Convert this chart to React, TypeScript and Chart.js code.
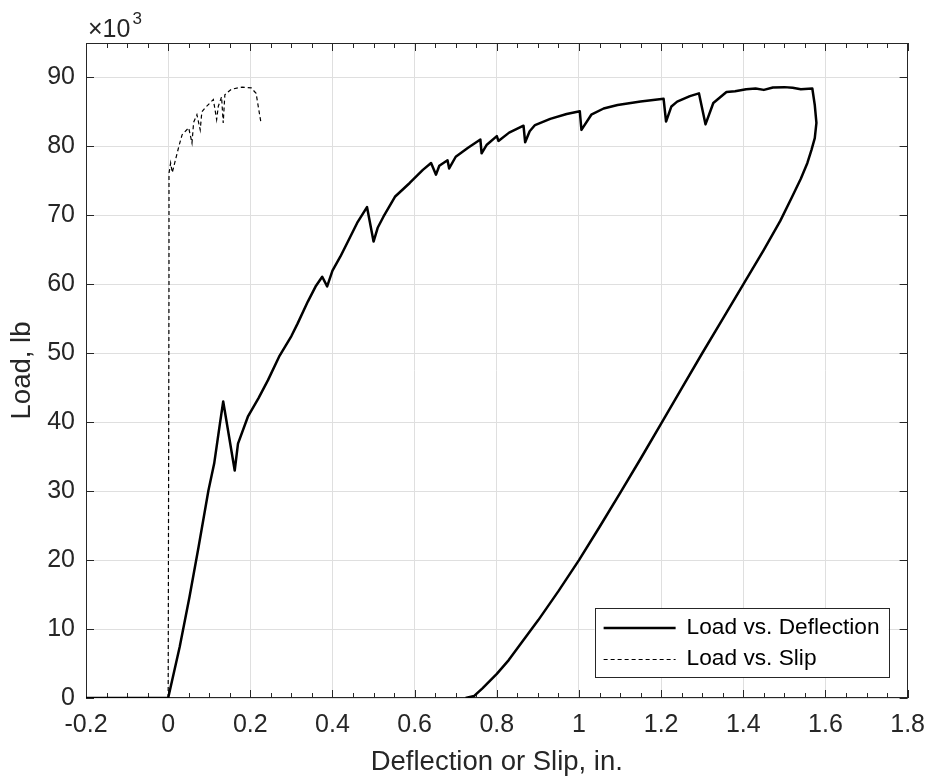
import React, { useEffect, useRef } from 'react';
import { Chart, registerables } from 'chart.js';

Chart.register(...registerables);

const FONT = "'Liberation Sans', Arial, Helvetica, sans-serif";
const INK = '#262626';

// axis ranges and tick labels
const xRange = [-0.2, 1.8];
const yRange = [0, 95];
const xTicks = [-0.2, 0, 0.2, 0.4, 0.6, 0.8, 1, 1.2, 1.4, 1.6, 1.8];
const yTicks = [0, 10, 20, 30, 40, 50, 60, 70, 80, 90];
const xTitle = 'Deflection or Slip, in.';
const yTitle = 'Load, lb';
const seriesLabels = ['Load vs. Deflection', 'Load vs. Slip'];

// Load vs. Deflection (load in 10^3 lb): loading branch
const deflectionLoading: [number, number][] = [
  [-0.2, 0], [0, 0], [0.028, 7.4], [0.052, 14.7], [0.074, 21.9], [0.098, 30.1],
  [0.112, 34], [0.126, 39.8], [0.134, 43.0], [0.162, 33.0], [0.17, 36.9],
  [0.194, 40.8], [0.22, 43.5], [0.243, 46.1], [0.27, 49.5], [0.3, 52.5],
  [0.315, 54.3], [0.34, 57.5], [0.36, 59.8], [0.375, 61.1], [0.387, 59.7],
  [0.4, 62], [0.419, 64.0], [0.44, 66.5], [0.46, 68.9], [0.484, 71.2],
  [0.5, 66.2], [0.51, 68.2], [0.524, 69.8], [0.552, 72.7], [0.588, 74.7],
  [0.62, 76.6], [0.64, 77.6], [0.652, 75.9], [0.66, 77.2], [0.68, 78.0],
  [0.684, 76.8], [0.7, 78.5], [0.73, 79.8], [0.76, 81.0], [0.763, 79.0],
  [0.775, 80.2], [0.8, 81.5], [0.804, 80.8], [0.83, 82.0], [0.865, 83.0],
  [0.869, 80.6], [0.88, 82.2], [0.893, 83.1], [0.93, 84.0], [0.97, 84.7],
  [1.002, 85.1], [1.006, 82.4], [1.03, 84.6], [1.06, 85.5], [1.094, 86.0],
  [1.15, 86.5], [1.206, 86.9], [1.212, 83.6], [1.225, 85.8], [1.239, 86.5],
  [1.27, 87.3], [1.292, 87.7], [1.308, 83.2], [1.327, 86.3], [1.359, 87.9],
  [1.38, 88.0], [1.407, 88.3], [1.43, 88.4], [1.45, 88.2], [1.472, 88.55],
  [1.5, 88.6], [1.52, 88.5], [1.54, 88.3], [1.568, 88.4],
];

// Load vs. Deflection: unloading branch
const deflectionUnloading: [number, number][] = [
  [1.574, 86.0], [1.578, 83.4], [1.574, 81.2], [1.566, 79.5], [1.556, 77.6],
  [1.54, 75.3], [1.518, 72.6], [1.49, 69.2], [1.45, 65], [1.4, 60],
  [1.35, 55], [1.3, 50], [1.25, 44.9], [1.2, 39.8], [1.15, 34.7],
  [1.1, 29.7], [1.05, 24.8], [1.0, 20], [0.95, 15.5], [0.901, 11.3],
  [0.86, 8], [0.829, 5.5], [0.8, 3.5], [0.765, 1.4], [0.745, 0.3], [0.724, 0],
];

// Load vs. Slip
const slip: [number, number][] = [
  [0, 0], [0.001, 30], [0.002, 60], [0.002, 76.1], [0.006, 77.6], [0.01, 76.2],
  [0.018, 78.1], [0.026, 80.0], [0.034, 81.7], [0.05, 82.7], [0.058, 80.5],
  [0.062, 83.5], [0.07, 84.6], [0.078, 82.4], [0.082, 85], [0.09, 85.6],
  [0.11, 86.8], [0.118, 83.9], [0.122, 85.8], [0.13, 87.2], [0.134, 83.4],
  [0.138, 87.5], [0.154, 88.3], [0.18, 88.6], [0.202, 88.5], [0.214, 87.7],
  [0.226, 83.4],
];

const toPoints = (arr: [number, number][]) => arr.map(([x, y]) => ({ x, y }));

const matlabAxes = {
  id: 'matlabAxes',
  beforeDatasetsDraw(chart: any) {
    const { ctx, chartArea: a, scales } = chart;
    const x = scales.x;
    const y = scales.y;
    ctx.save();
    ctx.strokeStyle = INK;
    ctx.lineWidth = 1;
    ctx.beginPath();
    const major = 8;
    const minor = 5;
    for (let i = 0; i < xTicks.length; i++) {
      const px = Math.round(x.getPixelForValue(xTicks[i])) + 0.5;
      ctx.moveTo(px, a.bottom); ctx.lineTo(px, a.bottom - major);
      ctx.moveTo(px, a.top); ctx.lineTo(px, a.top + major);
      if (i < xTicks.length - 1) {
        for (let k = 1; k < 4; k++) {
          const v = xTicks[i] + ((xTicks[i + 1] - xTicks[i]) * k) / 4;
          const pm = Math.round(x.getPixelForValue(v)) + 0.5;
          ctx.moveTo(pm, a.bottom); ctx.lineTo(pm, a.bottom - minor);
          ctx.moveTo(pm, a.top); ctx.lineTo(pm, a.top + minor);
        }
      }
    }
    for (const v of yTicks) {
      const py = Math.round(y.getPixelForValue(v)) + 0.5;
      ctx.moveTo(a.left, py); ctx.lineTo(a.left + major, py);
      ctx.moveTo(a.right, py); ctx.lineTo(a.right - major, py);
    }
    ctx.stroke();
    ctx.strokeRect(Math.round(a.left) + 0.5, Math.round(a.top) + 0.5,
      Math.round(a.right - a.left) - 1, Math.round(a.bottom - a.top) - 1);
    ctx.restore();
  },
  afterDatasetsDraw(chart: any) {
    const { ctx, chartArea: a } = chart;
    ctx.save();
    // exponent label
    ctx.fillStyle = INK;
    ctx.textBaseline = 'alphabetic';
    ctx.textAlign = 'left';
    ctx.font = `25px ${FONT}`;
    const base = '\u00d710';
    ctx.fillText(base, a.left + 2, a.top - 6);
    const w = ctx.measureText(base).width;
    ctx.font = `17px ${FONT}`;
    ctx.fillText('3', a.left + 4 + w, a.top - 19);

    // legend
    const lw = 294;
    const lh = 69;
    const lx = a.right - 19 - lw;
    const ly = a.bottom - 21 - lh;
    ctx.fillStyle = '#ffffff';
    ctx.fillRect(lx, ly, lw, lh);
    ctx.strokeStyle = INK;
    ctx.lineWidth = 1;
    ctx.strokeRect(Math.round(lx) + 0.5, Math.round(ly) + 0.5, lw, lh);
    const rows = [ly + 20, ly + 51];
    ctx.strokeStyle = '#000';
    ctx.lineWidth = 2.5;
    ctx.setLineDash([]);
    ctx.beginPath(); ctx.moveTo(lx + 9, rows[0]); ctx.lineTo(lx + 81, rows[0]); ctx.stroke();
    ctx.lineWidth = 1.2;
    ctx.setLineDash([4, 3]);
    ctx.beginPath(); ctx.moveTo(lx + 9, rows[1] + 0.5); ctx.lineTo(lx + 81, rows[1] + 0.5); ctx.stroke();
    ctx.setLineDash([]);
    ctx.fillStyle = '#000';
    ctx.font = `22.7px ${FONT}`;
    ctx.textBaseline = 'middle';
    ctx.fillText(seriesLabels[0], lx + 92, rows[0]);
    ctx.fillText(seriesLabels[1], lx + 92, rows[1]);
    ctx.restore();
  },
};

export default function App() {
  const canvasRef = useRef<HTMLCanvasElement | null>(null);

  useEffect(() => {
    if (!canvasRef.current) return;
    const chart = new Chart(canvasRef.current, {
      type: 'scatter',
      data: {
        datasets: [
          {
            label: seriesLabels[0],
            data: [...toPoints(deflectionLoading), ...toPoints(deflectionUnloading)],
            showLine: true,
            borderColor: '#000000',
            backgroundColor: '#000000',
            borderWidth: 2.5,
            borderJoinStyle: 'round',
            pointRadius: 0,
            fill: false,
            tension: 0,
          },
          {
            label: seriesLabels[1],
            data: toPoints(slip),
            showLine: true,
            borderColor: '#000000',
            backgroundColor: '#000000',
            borderWidth: 1.2,
            borderDash: [4, 3],
            pointRadius: 0,
            fill: false,
            tension: 0,
          },
        ],
      },
      options: {
        animation: false,
        responsive: true,
        maintainAspectRatio: false,
        events: [],
        layout: { padding: { top: 43, right: 21, left: 0, bottom: 0 } },
        plugins: { legend: { display: false }, tooltip: { enabled: false } },
        scales: {
          x: {
            type: 'linear',
            min: xRange[0],
            max: xRange[1],
            afterBuildTicks: (s: any) => { s.ticks = xTicks.map((v) => ({ value: v })); },
            afterFit: (s: any) => { s.height = 79; },
            grid: { color: '#dfdfdf', lineWidth: 1, drawTicks: false },
            border: { display: false },
            ticks: {
              padding: 12,
              color: INK,
              font: { family: FONT, size: 25 },
              maxRotation: 0,
              autoSkip: false,
              callback: (v: any) => String(Math.round(Number(v) * 10) / 10),
            },
            title: {
              display: true,
              text: xTitle,
              color: INK,
              font: { family: FONT, size: 27.5, lineHeight: 1 },
              padding: { top: 0, bottom: 1 },
            },
          },
          y: {
            type: 'linear',
            min: yRange[0],
            max: yRange[1],
            afterBuildTicks: (s: any) => { s.ticks = yTicks.map((v) => ({ value: v })); },
            afterFit: (s: any) => { s.width = 86; },
            grid: { color: '#dfdfdf', lineWidth: 1, drawTicks: false },
            border: { display: false },
            ticks: {
              padding: 11,
              color: INK,
              font: { family: FONT, size: 25 },
              autoSkip: false,
              callback: (v: any) => String(v),
            },
            title: {
              display: true,
              text: yTitle,
              color: INK,
              font: { family: FONT, size: 27.5, lineHeight: 1 },
              padding: { top: 9, bottom: 0 },
            },
          },
        },
      },
      plugins: [matlabAxes],
    } as any);
    return () => chart.destroy();
  }, []);

  return (
    <div style={{ position: 'absolute', left: 0, top: 0, width: 937, height: 777, background: '#fff' }}>
      <canvas ref={canvasRef} />
    </div>
  );
}
